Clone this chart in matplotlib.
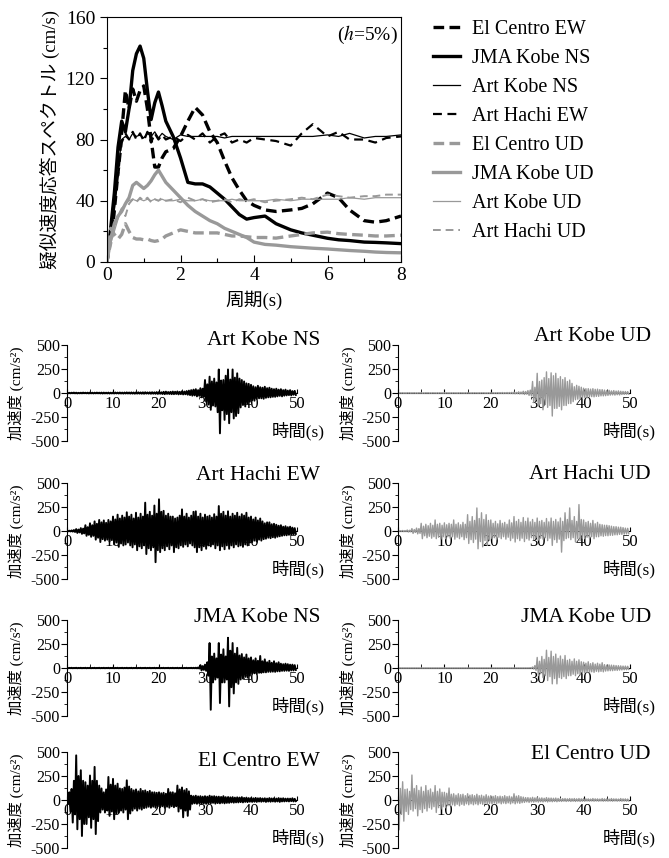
import numpy as np
import matplotlib.pyplot as plt
from matplotlib.ticker import MultipleLocator

plt.rcParams['font.family'] = ['Liberation Serif', 'Noto Sans CJK JP']
plt.rcParams['mathtext.fontset'] = 'stix'
plt.rcParams['axes.unicode_minus'] = False

GRAY = '#999999'

# ---- pseudo-velocity response spectra (h=5%) ----
period = [0, 0.1, 0.2, 0.3, 0.4, 0.5, 0.6, 0.7, 0.8, 0.9, 1.0, 1.1, 1.2, 1.3, 1.4,
          1.5, 1.6, 1.8, 2.0, 2.2, 2.4, 2.6, 2.8, 3.0, 3.2, 3.4, 3.6, 3.8, 4.0, 4.3,
          4.6, 5.0, 5.3, 5.6, 6.0, 6.3, 6.6, 7.0, 7.3, 7.6, 8.0]

sv_elcentro_ew = [0, 18, 40, 60, 85, 112, 100, 113, 105, 112, 115, 100, 80, 62, 62,
                  68, 72, 74, 82, 92, 101, 96, 85, 78, 66, 55, 47, 40, 37, 34,
                  33, 34, 35, 38, 45, 42, 34, 27, 26, 27, 30]
sv_jma_ns = [0, 22, 45, 75, 92, 85, 100, 125, 136, 141, 133, 112, 93, 104, 111,
             102, 92, 82, 68, 52, 51, 51, 49, 45, 41, 36, 31, 28, 29, 30,
             25, 21, 19, 17.5, 15.5, 14.5, 14, 13, 12.8, 12.5, 12]
sv_art_kobe_ns = [0, 15, 35, 60, 80, 82, 80, 84, 82, 83, 81, 84, 82, 85, 81,
                  84, 82, 80, 83, 82, 82, 82, 82, 82, 81, 82, 82, 82, 82, 82,
                  82, 82, 82, 82, 83, 82, 84, 81, 82, 82, 83]
sv_art_hachi_ew = [0, 15, 30, 55, 78, 84, 80, 85, 80, 84, 79, 85, 78, 84, 80,
                   83, 80, 82, 79, 83, 80, 84, 78, 82, 84, 78, 80, 78, 81, 80,
                   79, 76, 84, 90, 82, 85, 80, 80, 78, 81, 82]
sv_elcentro_ud = [0, 22, 18, 15, 18, 25, 20, 16, 15, 15, 14.5, 15, 14, 13.5, 14,
                  15, 17, 19, 21, 20, 19, 19, 19, 19, 18, 17, 17, 16.5, 16, 16,
                  15.6, 17, 18, 19, 19.5, 18.5, 18, 17.5, 17, 17, 17.5]
sv_jma_ud = [0, 15, 25, 30, 33, 38, 42, 50, 52, 50, 48, 50, 53, 57, 60,
             56, 52, 47, 42, 37, 33, 30, 27, 25, 22, 20, 18, 16, 13, 11.5,
             11, 10, 9.5, 9, 8.5, 8, 7.5, 7, 6.5, 6.2, 6]
sv_art_kobe_ud = [0, 12, 20, 28, 35, 38, 40, 41, 40, 41, 40, 41, 40, 41, 40,
                  41, 40, 40, 41, 40, 40, 41, 40, 40, 40, 41, 40, 40, 40, 40,
                  41, 40, 41, 41, 41, 41, 42, 41, 42, 42, 42]
sv_art_hachi_ud = [0, 10, 22, 30, 35, 30, 38, 41, 39, 42, 40, 42, 39, 41, 40,
                   42, 40, 41, 39, 42, 40, 41, 39, 40, 41, 39, 41, 40, 41, 39,
                   40, 41, 42, 41, 44, 43, 42, 43, 43, 44, 44]

# ---- acceleration records: positive / negative peak per half second (t = 0..49.5 s) ----
art_kobe_ns_up = [3, 2, 3, 4, 3, 2, 3, 4, 3, 3, 4, 3, 3, 4, 3, 4, 4, 3, 4, 3,
                  4, 5, 4, 5, 4, 5, 6, 5, 6, 5, 6, 7, 6, 7, 8, 6, 7, 8, 7, 9,
                  10, 8, 12, 14, 10, 12, 15, 13, 16, 12, 18, 15, 20, 25, 30, 35, 40, 30, 50, 45,
                  135, 90, 170, 120, 150, 110, 245, 130, 135, 180, 245, 140, 245, 160, 205, 150, 135, 120, 100, 95,
                  85, 70, 60, 75, 60, 55, 65, 50, 55, 45, 40, 45, 35, 40, 30, 35, 25, 30, 20, 22]
art_kobe_ns_dn = [-3, -3, -2, -3, -4, -3, -3, -2, -3, -4, -3, -4, -3, -3, -4, -5, -4, -4, -5, -4,
                  -5, -4, -5, -5, -6, -5, -5, -6, -6, -7, -6, -6, -7, -8, -6, -7, -8, -7, -8, -9,
                  -8, -10, -12, -9, -10, -12, -12, -10, -14, -12, -15, -13, -18, -22, -28, -25, -35, -30, -45, -40,
                  -90, -120, -175, -130, -140, -200, -420, -180, -280, -220, -315, -200, -265, -240, -210, -150, -125, -140, -110, -90,
                  -75, -80, -60, -55, -55, -60, -50, -45, -45, -40, -40, -35, -30, -35, -28, -25, -22, -25, -18, -20]
art_kobe_ud_up = [3, 2, 3, 2, 3, 3, 2, 3, 2, 3, 3, 2, 3, 3, 2, 3, 2, 3, 3, 2,
                  3, 3, 2, 3, 3, 2, 3, 3, 2, 3, 3, 2, 3, 3, 2, 3, 3, 3, 2, 3,
                  3, 4, 3, 4, 4, 5, 4, 5, 5, 6, 8, 6, 12, 10, 18, 15, 25, 30, 120, 60,
                  205, 120, 135, 160, 220, 150, 210, 180, 205, 150, 170, 140, 160, 120, 135, 100, 65, 80, 70, 60,
                  50, 45, 45, 40, 45, 38, 40, 35, 35, 30, 25, 28, 22, 25, 20, 22, 18, 16, 15, 14]
art_kobe_ud_dn = [-3, -2, -3, -3, -2, -3, -2, -3, -3, -2, -3, -3, -2, -3, -3, -2, -3, -3, -2, -3,
                  -3, -2, -3, -3, -2, -3, -3, -2, -3, -3, -2, -3, -3, -2, -3, -3, -2, -3, -3, -3,
                  -3, -4, -3, -4, -4, -5, -4, -5, -5, -6, -8, -6, -10, -9, -15, -12, -25, -30, -100, -70,
                  -130, -110, -175, -120, -150, -130, -240, -160, -160, -140, -175, -130, -130, -110, -110, -90, -70, -65, -60, -55,
                  -45, -50, -40, -38, -40, -35, -35, -30, -30, -28, -25, -22, -20, -22, -18, -20, -15, -14, -12, -12]
art_hachi_ew_up = [3, 3, 6, 10, 20, 15, 30, 25, 60, 40, 80, 60, 100, 75, 115, 90, 110, 85, 115, 100,
                   150, 120, 170, 130, 160, 140, 195, 150, 170, 130, 190, 140, 180, 150, 295, 170, 200, 160, 265, 180,
                   330, 200, 210, 160, 180, 150, 150, 130, 140, 160, 225, 150, 180, 140, 160, 200, 205, 150, 180, 140,
                   170, 150, 160, 140, 175, 150, 260, 180, 200, 160, 205, 150, 180, 160, 190, 150, 175, 160, 190, 140,
                   150, 120, 140, 110, 130, 100, 80, 90, 90, 70, 75, 65, 55, 60, 45, 50, 40, 45, 35, 30]
art_hachi_ew_dn = [-3, -4, -6, -10, -20, -15, -30, -25, -50, -40, -60, -50, -90, -70, -115, -85, -100, -90, -110, -95,
                   -140, -120, -165, -130, -150, -140, -120, -150, -170, -140, -200, -160, -180, -150, -240, -180, -200, -170, -325, -200,
                   -220, -180, -200, -160, -190, -150, -220, -170, -180, -150, -165, -140, -160, -130, -150, -170, -220, -170, -200, -160,
                   -185, -150, -160, -140, -180, -150, -200, -160, -190, -150, -185, -150, -170, -140, -160, -150, -165, -140, -150, -120,
                   -115, -100, -110, -90, -100, -85, -80, -70, -75, -65, -70, -60, -55, -50, -45, -45, -40, -38, -35, -30]
art_hachi_ud_up = [3, 3, 5, 4, 10, 8, 25, 15, 30, 25, 80, 50, 70, 55, 80, 60, 115, 70, 80, 60,
                   85, 65, 80, 70, 115, 70, 85, 65, 90, 70, 170, 100, 150, 110, 240, 130, 190, 120, 170, 110,
                   115, 80, 100, 75, 110, 80, 90, 70, 115, 85, 150, 100, 120, 90, 140, 100, 135, 95, 120, 90,
                   135, 100, 110, 90, 130, 95, 135, 100, 120, 95, 135, 100, 190, 120, 240, 110, 150, 100, 275, 120,
                   115, 90, 100, 80, 110, 75, 90, 70, 65, 60, 60, 55, 50, 45, 45, 40, 40, 35, 30, 28]
art_hachi_ud_dn = [-3, -3, -5, -4, -10, -8, -25, -15, -30, -25, -80, -50, -70, -55, -75, -60, -80, -65, -85, -60,
                   -80, -60, -75, -60, -85, -65, -80, -60, -90, -70, -130, -90, -120, -85, -185, -110, -165, -100, -150, -95,
                   -80, -70, -90, -65, -80, -60, -85, -65, -100, -75, -115, -80, -100, -75, -110, -80, -95, -70, -90, -70,
                   -95, -75, -85, -70, -100, -75, -150, -90, -120, -85, -220, -100, -80, -70, -90, -70, -115, -80, -100, -75,
                   -80, -65, -75, -60, -80, -60, -60, -50, -55, -48, -50, -45, -45, -40, -40, -35, -35, -32, -30, -28]
jma_kobe_ns_up = [2, 1, 2, 1, 2, 1, 2, 1, 2, 1, 2, 1, 2, 1, 2, 1, 2, 1, 2, 1,
                  2, 1, 2, 1, 2, 1, 2, 1, 2, 1, 2, 1, 2, 1, 2, 1, 2, 1, 2, 1,
                  2, 1, 2, 1, 2, 1, 2, 1, 2, 1, 2, 1, 2, 1, 2, 2, 3, 5, 30, 20,
                  35, 60, 260, 120, 150, 100, 260, 140, 195, 120, 315, 180, 260, 150, 210, 130, 145, 110, 140, 100,
                  110, 80, 100, 75, 125, 70, 90, 60, 75, 55, 70, 50, 60, 45, 40, 45, 40, 35, 35, 30]
jma_kobe_ns_dn = [-2, -1, -2, -1, -2, -1, -2, -1, -2, -1, -2, -1, -2, -1, -2, -1, -2, -1, -2, -1,
                  -2, -1, -2, -1, -2, -1, -2, -1, -2, -1, -2, -1, -2, -1, -2, -1, -2, -1, -2, -1,
                  -2, -1, -2, -1, -2, -1, -2, -1, -2, -1, -2, -1, -2, -1, -2, -2, -3, -5, -25, -20,
                  -30, -80, -435, -150, -120, -100, -365, -150, -150, -120, -400, -200, -265, -150, -165, -120, -110, -90, -100, -80,
                  -60, -55, -60, -50, -50, -45, -45, -40, -40, -38, -40, -35, -35, -30, -30, -28, -30, -25, -25, -20]
jma_kobe_ud_up = [1, 1, 1, 1, 1, 1, 1, 1, 1, 1, 1, 1, 1, 1, 1, 1, 1, 1, 1, 1,
                  1, 1, 1, 1, 1, 1, 1, 1, 1, 1, 1, 1, 1, 1, 1, 1, 1, 1, 1, 1,
                  1, 1, 1, 1, 1, 1, 1, 1, 1, 1, 1, 1, 1, 1, 1, 1, 1, 3, 10, 25,
                  110, 70, 120, 90, 185, 110, 175, 120, 145, 100, 125, 90, 130, 80, 90, 70, 95, 70, 85, 65,
                  60, 50, 65, 45, 55, 40, 50, 40, 55, 35, 30, 32, 30, 28, 25, 24, 22, 20, 20, 18]
jma_kobe_ud_dn = [-1, -1, -1, -1, -1, -1, -1, -1, -1, -1, -1, -1, -1, -1, -1, -1, -1, -1, -1, -1,
                  -1, -1, -1, -1, -1, -1, -1, -1, -1, -1, -1, -1, -1, -1, -1, -1, -1, -1, -1, -1,
                  -1, -1, -1, -1, -1, -1, -1, -1, -1, -1, -1, -1, -1, -1, -1, -1, -1, -3, -10, -25,
                  -80, -60, -100, -80, -130, -90, -165, -110, -165, -100, -110, -90, -110, -80, -80, -65, -80, -60, -70, -55,
                  -50, -45, -50, -40, -45, -35, -40, -35, -40, -32, -30, -28, -28, -25, -25, -22, -20, -18, -18, -15]
elcentro_ew_up = [30, 80, 115, 200, 465, 250, 310, 200, 185, 150, 255, 200, 345, 200, 150, 120, 80, 110, 240, 160,
                  220, 150, 170, 120, 115, 130, 205, 140, 115, 100, 110, 90, 115, 95, 100, 85, 95, 80, 80, 75,
                  80, 70, 75, 65, 115, 80, 80, 70, 150, 110, 130, 100, 115, 90, 45, 40, 45, 38, 40, 35,
                  40, 35, 45, 38, 40, 35, 35, 32, 40, 30, 30, 28, 30, 25, 28, 25, 30, 22, 25, 20,
                  20, 18, 22, 18, 20, 16, 18, 15, 20, 16, 18, 15, 20, 16, 18, 14, 15, 14, 18, 12]
elcentro_ew_dn = [-40, -120, -235, -150, -305, -200, -375, -250, -250, -180, -290, -200, -355, -220, -130, -100, -130, -110, -165, -120,
                  -200, -140, -130, -110, -130, -100, -200, -140, -110, -90, -110, -90, -100, -85, -80, -70, -80, -70, -80, -65,
                  -75, -65, -80, -70, -80, -65, -75, -65, -120, -90, -180, -110, -165, -100, -40, -35, -40, -35, -40, -35,
                  -40, -35, -35, -30, -38, -32, -35, -30, -35, -30, -30, -25, -28, -25, -25, -22, -25, -20, -22, -18,
                  -20, -18, -20, -16, -18, -15, -20, -16, -18, -15, -18, -15, -20, -15, -15, -13, -15, -12, -15, -12]
elcentro_ud_up = [225, 120, 190, 110, 115, 90, 260, 120, 150, 100, 135, 90, 150, 100, 115, 80, 150, 90, 115, 80,
                  80, 70, 125, 60, 65, 50, 65, 55, 60, 45, 65, 50, 55, 45, 60, 45, 50, 40, 55, 40,
                  45, 38, 45, 35, 40, 35, 45, 35, 40, 32, 65, 40, 45, 35, 30, 25, 25, 22, 28, 22,
                  25, 20, 22, 18, 25, 20, 20, 18, 20, 16, 15, 14, 15, 12, 15, 13, 15, 12, 15, 12,
                  15, 12, 12, 10, 15, 12, 12, 10, 15, 12, 12, 10, 15, 12, 12, 10, 15, 12, 12, 10]
elcentro_ud_dn = [-310, -150, -220, -120, -150, -100, -115, -90, -165, -100, -130, -90, -115, -80, -95, -70, -130, -80, -95, -70,
                  -80, -60, -60, -50, -60, -45, -60, -45, -55, -40, -50, -40, -50, -40, -50, -38, -45, -35, -45, -35,
                  -40, -32, -40, -30, -40, -32, -38, -30, -40, -30, -40, -30, -35, -28, -25, -20, -25, -20, -22, -18,
                  -22, -18, -20, -16, -20, -16, -18, -15, -18, -14, -15, -12, -15, -12, -15, -12, -15, -12, -15, -12,
                  -12, -10, -12, -10, -12, -10, -12, -10, -12, -10, -12, -10, -12, -10, -12, -10, -12, -10, -12, -10]


def zigzag(up, dn):
    # positive peak at the start of each half second, negative peak a quarter second later
    k = np.arange(len(up)) * 0.5
    t = np.empty(2 * len(up))
    y = np.empty(2 * len(up))
    t[0::2], t[1::2] = k, k + 0.25
    y[0::2], y[1::2] = up, dn
    return t, y


fig = plt.figure(figsize=(6.69, 8.58), dpi=100)
W, H = 669, 858


def px_axes(left, top, width, height):
    return fig.add_axes([left / W, 1 - (top + height) / H, width / W, height / H])


# ---- top spectrum panel ----
ax = px_axes(107, 17, 294, 245)
specs = [
    ('El Centro EW', sv_elcentro_ew, 'black', 2.4, (3.2, 1.6)),
    ('JMA Kobe NS', sv_jma_ns, 'black', 2.4, None),
    ('Art Kobe NS', sv_art_kobe_ns, 'black', 0.9, None),
    ('Art Hachi EW', sv_art_hachi_ew, 'black', 1.6, (4, 2.5)),
    ('El Centro UD', sv_elcentro_ud, GRAY, 2.4, (3.2, 1.6)),
    ('JMA Kobe UD', sv_jma_ud, GRAY, 2.4, None),
    ('Art Kobe UD', sv_art_kobe_ud, GRAY, 0.9, None),
    ('Art Hachi UD', sv_art_hachi_ud, GRAY, 1.4, (4, 2.5)),
]
for label, vals, col, lw, dash in specs:
    line, = ax.plot(period, vals, color=col, lw=lw, label=label)
    if dash:
        line.set_dashes(dash)
ax.set_xlim(0, 8)
ax.set_ylim(0, 160)
ax.xaxis.set_major_locator(MultipleLocator(2))
ax.xaxis.set_minor_locator(MultipleLocator(1))
ax.yaxis.set_major_locator(MultipleLocator(40))
ax.yaxis.set_minor_locator(MultipleLocator(20))
ax.tick_params(axis='both', which='major', labelsize=14, length=5, width=0.8)
ax.tick_params(axis='both', which='minor', length=3, width=0.8)
ax.tick_params(axis='x', which='both', direction='in')
ax.tick_params(axis='y', which='both', direction='out')
for s in ax.spines.values():
    s.set_linewidth(0.8)
ax.set_xlabel('周期(s)', fontsize=13.5, labelpad=5)
ax.set_ylabel('疑似速度応答スペクトル (cm/s)', fontsize=13.5)
ax.yaxis.set_label_coords(-0.16, 0.5)
ax.text(0.99, 0.925, r'($\it{h}$=5%)', transform=ax.transAxes, ha='right', va='center', fontsize=14)
fig.legend(loc='upper left', bbox_to_anchor=(433 / W, 1 - 20 / H), frameon=False,
           fontsize=14.5, handlelength=1.35, handletextpad=0.6, labelspacing=0.49,
           borderpad=0, borderaxespad=0)

# ---- acceleration time histories ----
records = [
    ('Art Kobe NS', art_kobe_ns_up, art_kobe_ns_dn, 'black', 0, 0, 1.05),
    ('Art Kobe UD', art_kobe_ud_up, art_kobe_ud_dn, GRAY, 0, 1, 1.09),
    ('Art Hachi EW', art_hachi_ew_up, art_hachi_ew_dn, 'black', 1, 0, 1.08),
    ('Art Hachi UD', art_hachi_ud_up, art_hachi_ud_dn, GRAY, 1, 1, 1.09),
    ('JMA Kobe NS', jma_kobe_ns_up, jma_kobe_ns_dn, 'black', 2, 0, 1.03),
    ('JMA Kobe UD', jma_kobe_ud_up, jma_kobe_ud_dn, GRAY, 2, 1, 1.03),
    ('El Centro EW', elcentro_ew_up, elcentro_ew_dn, 'black', 3, 0, 0.90),
    ('El Centro UD', elcentro_ud_up, elcentro_ud_dn, GRAY, 3, 1, 0.97),
]
row_tops = [345, 483, 620, 752]
col_lefts = [67, 398]
col_widths = [230, 232]
for name, up, dn, col, r, c, ty in records:
    a = px_axes(col_lefts[c], row_tops[r], col_widths[c], 96)
    t, y = zigzag(up, dn)
    a.plot(t, y, color=col, lw=1.4 if col == 'black' else 1.0)
    a.set_xlim(0, 50)
    a.set_ylim(-500, 500)
    a.spines['top'].set_visible(False)
    a.spines['right'].set_visible(False)
    a.spines['bottom'].set_position(('data', 0))
    a.spines['bottom'].set_zorder(0)
    a.xaxis.set_major_locator(MultipleLocator(10))
    a.xaxis.set_minor_locator(MultipleLocator(5))
    a.yaxis.set_major_locator(MultipleLocator(250))
    a.yaxis.set_minor_locator(MultipleLocator(125))
    a.tick_params(axis='x', which='both', direction='in', length=3, labelsize=12, pad=2)
    a.tick_params(axis='y', which='major', direction='out', length=4, labelsize=11.5, pad=1)
    a.tick_params(axis='y', which='minor', direction='out', length=2.5)
    a.set_ylabel('加速度 (cm/s²)', fontsize=11)
    a.yaxis.set_label_coords(-0.185 if c == 0 else -0.18, 0.5)
    a.text(1.10 if c == 0 else 1.09, ty, name, transform=a.transAxes, ha='right', va='center', fontsize=15.5)
    a.text(1.12 if c == 0 else 1.11, 0.1, '時間(s)', transform=a.transAxes, ha='right', va='center', fontsize=12.5)

fig.savefig('out.png', dpi=100)
